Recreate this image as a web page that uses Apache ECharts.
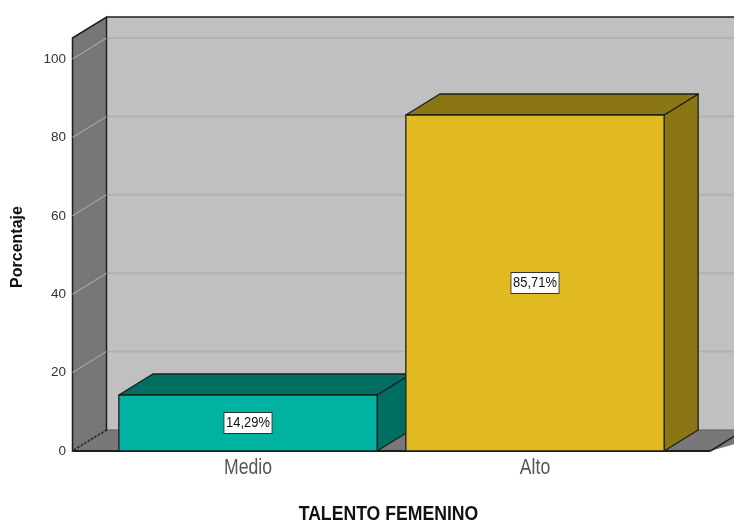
<!DOCTYPE html>
<html>
<head>
<meta charset="utf-8">
<script src="https://cdn.jsdelivr.net/npm/echarts@6/dist/echarts.min.js"></script>
<style>
html,body{margin:0;padding:0;background:#fff;}
#chart{width:734px;height:524px;}
</style>
</head>
<body>
<div id="chart"></div>
<script>
// ---- data ----
const categories = ['Medio', 'Alto'];
const percentages = [14.29, 85.71];
const valueLabels = ['14,29%', '85,71%'];
const yTicks = [0, 20, 40, 60, 80, 100];
const xTitle = 'TALENTO FEMENINO';
const yTitle = 'Porcentaje';
const frontColors = ['#00b3a0', '#e0ba20'];
const sideColors = ['#006e60', '#8b7615'];

const DX = 34, DY = -21;
const EDGE = '#1e1e1e';
const SANS = '"Liberation Sans", Arial, sans-serif';

const chart = echarts.init(document.getElementById('chart'), null, {renderer: 'canvas'});

function renderWalls(params, api) {
  const cs = params.coordSys;
  const y0 = api.coord([0, 0])[1];
  const yTop = api.coord([0, yTicks[yTicks.length - 1]])[1] + DY;
  const L = cs.x - 32, R = cs.x + cs.width + 32;
  const farR = R + DX + 40;
  const children = [];
  children.push({type: 'rect', shape: {x: L + DX, y: yTop + DY, width: farR - (L + DX), height: (y0 + DY) - (yTop + DY)},
    style: {fill: '#c0c0c0'}});
  yTicks.forEach(v => {
    if (v === 0) return;
    const y = api.coord([0, v])[1] + DY;
    children.push({type: 'line', shape: {x1: L + DX, y1: y, x2: farR, y2: y}, style: {stroke: '#b1b1b1', lineWidth: 2}});
  });
  children.push({type: 'polygon', shape: {points: [[L, y0], [L + DX, y0 + DY], [farR, y0 + DY], [R, y0]]},
    style: {fill: '#787878'}});
  children.push({type: 'line', shape: {x1: L + DX, y1: y0 + DY, x2: farR, y2: y0 + DY}, style: {stroke: '#5a5a5a', lineWidth: 1}});
  children.push({type: 'polygon', shape: {points: [[L, yTop], [L + DX, yTop + DY], [L + DX, y0 + DY], [L, y0]]},
    style: {fill: '#777777', stroke: EDGE, lineWidth: 1.5}});
  yTicks.forEach(v => {
    const y = api.coord([0, v])[1];
    children.push({type: 'line', shape: {x1: L, y1: y, x2: L + DX, y2: y + DY},
      style: {stroke: '#a4a4a4', lineWidth: v === 0 ? 1 : 1.2, lineDash: v === 0 ? [2, 2] : null}});
  });
  children.push({type: 'line', shape: {x1: L + DX, y1: yTop + DY, x2: farR, y2: yTop + DY}, style: {stroke: EDGE, lineWidth: 1.5}});
  children.push({type: 'line', shape: {x1: L, y1: y0, x2: R, y2: y0}, style: {stroke: EDGE, lineWidth: 2}});
  children.push({type: 'line', shape: {x1: R, y1: y0, x2: R + DX, y2: y0 + DY}, style: {stroke: EDGE, lineWidth: 1.5}});
  // axis titles
  children.push({type: 'text', x: cs.x + cs.width / 2 - 3, y: y0 + 63, scaleX: 0.84,
    style: {text: xTitle, font: 'bold 21px ' + SANS, fill: '#111', align: 'center', verticalAlign: 'middle'}});
  children.push({type: 'text', x: 18, y: cs.y + cs.height / 2 - 8, rotation: Math.PI / 2,
    style: {text: yTitle, font: 'bold 16px ' + SANS, fill: '#111', align: 'center', verticalAlign: 'middle'}});
  return {type: 'group', children: children};
}

function renderBar(params, api) {
  const idx = api.value(0);
  const val = api.value(1);
  const base = api.coord([idx, 0]);
  const top = api.coord([idx, val]);
  const band = api.size([1, 0])[0];
  const w = band * 0.9;
  const x1 = base[0] - w / 2, x2 = base[0] + w / 2;
  const yb = base[1], yt = top[1];
  const i = params.dataIndex;
  const stroke = {stroke: EDGE, lineWidth: 1.3, lineJoin: 'round'};
  return {
    type: 'group',
    children: [
      {type: 'polygon', shape: {points: [[x2, yb], [x2 + DX, yb + DY], [x2 + DX, yt + DY], [x2, yt]]},
        style: Object.assign({fill: sideColors[i]}, stroke)},
      {type: 'polygon', shape: {points: [[x1, yt], [x1 + DX, yt + DY], [x2 + DX, yt + DY], [x2, yt]]},
        style: Object.assign({fill: sideColors[i]}, stroke)},
      {type: 'rect', shape: {x: x1, y: yt, width: w, height: yb - yt},
        style: Object.assign({fill: frontColors[i]}, stroke)},
      {type: 'text', x: base[0], y: (yb + yt) / 2, scaleX: 0.86,
        style: {text: valueLabels[i], fill: '#111', font: '15px ' + SANS, align: 'center', verticalAlign: 'middle',
          backgroundColor: '#ffffff', borderColor: '#333', borderWidth: 1, padding: [3, 2, 2, 2]}},
      {type: 'text', x: base[0], y: yb + 17, scaleX: 0.8,
        style: {text: categories[i], fill: '#555', font: '22px ' + SANS, align: 'center', verticalAlign: 'middle'}}
    ]
  };
}

const option = {
  animation: false,
  backgroundColor: '#ffffff',
  grid: {left: 104.5, right: 55.5, top: 59, bottom: 73, containLabel: false},
  xAxis: {
    type: 'category',
    data: categories,
    axisLine: {show: false},
    axisTick: {show: false},
    axisLabel: {show: false}
  },
  yAxis: {
    type: 'value',
    min: 0, max: 100, interval: 20,
    axisLine: {show: false},
    axisTick: {show: false},
    splitLine: {show: false},
    axisLabel: {fontSize: 13.5, fontFamily: SANS, color: '#333', margin: 38.5}
  },
  series: [
    {type: 'custom', name: 'walls', renderItem: renderWalls, data: [[0, 0]], silent: true, z: 1, clip: false},
    {type: 'custom', name: 'TALENTO FEMENINO', renderItem: renderBar,
      data: percentages.map((v, i) => [i, v]), z: 2, clip: false}
  ]
};
chart.setOption(option);
</script>
</body>
</html>
